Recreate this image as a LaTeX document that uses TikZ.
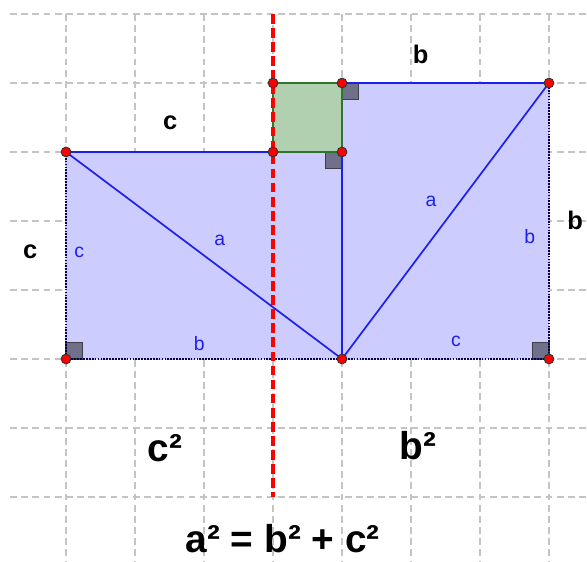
\documentclass[tikz,border=0pt]{standalone}
\usepackage{fontspec}
\setmainfont{Liberation Sans}
\definecolor{areablue}{RGB}{204,204,255}
\definecolor{lineblue}{RGB}{30,30,235}
\definecolor{sqgreen}{RGB}{176,208,176}
\definecolor{edgegreen}{RGB}{50,115,50}
\definecolor{markgray}{RGB}{112,112,138}
\definecolor{gridgray}{RGB}{196,196,196}
\begin{document}
\begin{tikzpicture}[x=1cm,y=1cm,
  gridline/.style={gridgray,line width=0.5pt,dash pattern=on 2.8pt off 1.8pt},
  axisline/.style={red,line width=1.3pt,dash pattern=on 4pt off 1.8pt},
  sideline/.style={lineblue,line width=0.7pt},
  dotedge/.style={black!70!blue,line width=0.7pt,dash pattern=on 0.7pt off 0.5pt},
  rightmark/.style={fill=markgray,draw=black!75,line width=0.7pt},
  ptdot/.style={fill=red,draw=black!80,line width=0.4pt},
  smalllabel/.style={lineblue,font=\fontsize{8}{9}\selectfont},
  midlabel/.style={font=\fontsize{10.5}{12}\selectfont\bfseries},
  biglabel/.style={font=\fontsize{16}{19}\selectfont\bfseries}]
  \useasboundingbox (-0.957,-2.942) rectangle (7.551,5.203);
  % grid
  \foreach \j in {-2,...,5} \draw[gridline] (-0.81,\j) -- (7.551,\j);
  \foreach \i in {0,...,7} \draw[gridline] (\i,5) -- (\i,-2.942);
  % corner points
  \coordinate (A) at (0,0);
  \coordinate (B) at (4,0);
  \coordinate (C) at (7,0);
  \coordinate (D) at (0,3);
  \coordinate (E) at (3,3);
  \coordinate (F) at (4,3);
  \coordinate (G) at (3,4);
  \coordinate (H) at (4,4);
  \coordinate (I) at (7,4);
  % areas
  \fill[areablue] (A) -- (C) -- (I) -- (H) -- (F) -- (D) -- cycle;
  \fill[sqgreen] (E) rectangle (H);
  % right angles
  \draw[rightmark] (A) rectangle ++(0.24,0.24);
  \draw[rightmark] (C) rectangle ++(-0.24,0.24);
  \draw[rightmark] (H) rectangle ++(0.24,-0.24);
  \draw[rightmark] (F) rectangle ++(-0.24,-0.24);
  % sides
  \draw[sideline] (D) -- (F) (H) -- (I) (F) -- (B);
  \draw[sideline] (D) -- (B) -- (I);
  \draw[dotedge] (D) -- (A) -- (C) -- (I);
  \draw[edgegreen,line width=0.8pt] (E) rectangle (H);
  % dividing line
  \draw[axisline] (3,5) -- (3,-2);
  \foreach \p in {A,B,C,D,E,F,G,H,I} \filldraw[ptdot] (\p) circle (2pt);
  % labels
  \node[smalllabel] (lc1) at (0.19,1.55) {c};
  \node[smalllabel] (la1) at (2.23,1.72) {a};
  \node[smalllabel] (lb1) at (1.93,0.22) {b};
  \node[smalllabel] (la2) at (5.29,2.29) {a};
  \node[smalllabel] (lb2) at (6.72,1.77) {b};
  \node[smalllabel] (lc2) at (5.65,0.25) {c};
  \node[midlabel] (sc1) at (-0.52,1.55) {c};
  \node[midlabel] (sc2) at (1.51,3.43) {c};
  \node[midlabel] (sb1) at (5.14,4.42) {b};
  \node[midlabel] (sb2) at (7.38,2.01) {b};
  \node[biglabel] (csq) at (1.43,-1.30) {c²};
  \node[biglabel] (bsq) at (5.10,-1.25) {b²};
  \node[biglabel] (pyth) at (3.14,-2.60) {a² = b² + c²};
\end{tikzpicture}
\end{document}
